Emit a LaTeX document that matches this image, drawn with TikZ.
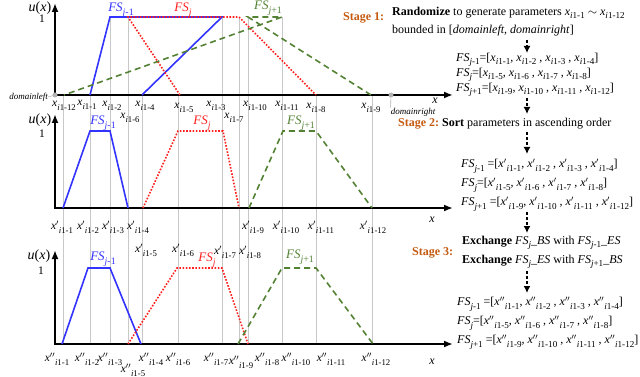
\documentclass[tikz,border=0pt]{standalone}
\usepackage{fontspec}
\setmainfont{Liberation Serif}
\usetikzlibrary{arrows.meta}
\definecolor{fsblue}{HTML}{3333FF}
\definecolor{fsred}{HTML}{FF2020}
\definecolor{fsgreen}{HTML}{548235}
\definecolor{stageorange}{HTML}{C55A11}
\definecolor{guidegray}{HTML}{C8C8C8}
% subscripts and parameter labels
\newcommand{\sbs}[1]{\raisebox{-0.3em}{\scalebox{0.76}{#1}}}
\newcommand{\px}[1]{\textit{x}\sbs{\textit{i}1-#1}}
\newcommand{\pxa}[1]{\textit{x}$^{\prime}$\sbs{\textit{i}1-#1}}
\newcommand{\pxb}[1]{\textit{x}$^{\prime\prime}$\sbs{\textit{i}1-#1}}
\newcommand{\fs}[1]{\textit{FS}\sbs{\textit{j}#1}}
% trapezoid: style, start, left top, right top, end, base y, top y
\newcommand{\trap}[7]{%
  \draw[#1] (#2,#6) -- (#3,#7) -- (#4,#7) -- (#5,#6);%
}

\begin{document}
\begin{tikzpicture}[x=1pt,y=-1pt,
  axis/.style={line width=2.2pt,{Latex[length=9pt,width=7pt]}-{Latex[length=9pt,width=7pt]}},
  guide/.style={guidegray,line width=0.5pt},
  fsa/.style={fsblue,line width=1.6pt},
  fsb/.style={fsred,line width=1.6pt,dash pattern=on 1.6pt off 1.6pt},
  fsc/.style={fsgreen,line width=1.6pt,dash pattern=on 6pt off 4pt},
  tick/.style={font=\fontsize{11.5}{12}\selectfont,inner sep=0pt},
  fslabel/.style={font=\fontsize{13}{14}\selectfont,inner sep=0pt},
  stage/.style={anchor=west,font=\fontsize{12}{14}\selectfont\bfseries,text=stageorange,inner sep=0pt},
  txt/.style={anchor=west,font=\fontsize{12}{14}\selectfont,inner sep=0pt},
  flow/.style={line width=2pt,dash pattern=on 3pt off 2pt,-{Latex[length=7pt,width=7pt]}}]
  \useasboundingbox (0,0) rectangle (640,377);

  % guide lines
  \foreach \gx in {63,90,110,128,142,178,222,239,248,282,316,372}
    \draw[guide] (\gx,95) -- (\gx,344);
  \foreach \gx in {110,128,222,239,248,282}
    \draw[guide] (\gx,17) -- (\gx,95);

  % axes
  \foreach \by/\ty in {95/3,208/114,344/250}
    \draw[axis] (55,\ty) -- (55,\by) -- (453,\by);
  \node[font=\fontsize{14}{14}\selectfont] (u1) at (40,8) {\textit{u}(\textit{x})};
  \node[font=\fontsize{14}{14}\selectfont] (u2) at (40,120) {\textit{u}(\textit{x})};
  \node[font=\fontsize{14}{14}\selectfont] (u3) at (39,256) {\textit{u}(\textit{x})};
  \node[tick] (one1) at (42,19) {1};
  \node[tick] (one2) at (42,134) {1};
  \node[tick] (one3) at (41,271) {1};
  \node[tick,font=\fontsize{12}{12}\selectfont\itshape] (xl1) at (435,101) {x};
  \node[tick,font=\fontsize{12}{12}\selectfont\itshape] (xl2) at (432,220) {x};
  \node[tick,font=\fontsize{12}{12}\selectfont\itshape] (xl3) at (432,362) {x};

  % domain bounds
  \fill[gray!60] (55,95) circle (2.5);
  \fill[gray!60] (391,95) circle (2.5);
  \node[tick,font=\fontsize{9}{10}\selectfont\itshape,anchor=east] (dl) at (48,97) {domainleft};
  \node[tick,font=\fontsize{9}{10}\selectfont\itshape] (dr) at (413,112) {domainright};
  \coordinate (dlp) at (55,95);
  \coordinate (drp) at (391,95);
  \draw[gray!60,line width=0.6pt] (dl.east) -- (dlp);
  \draw[gray!60,line width=0.6pt] (dr.north west) -- (drp);

  % stage 1
  \trap{fsa}{90}{110}{222}{142}{95}{17}
  \trap{fsb}{180}{128}{239}{316}{95}{17}
  \trap{fsc}{371}{248}{282}{64}{95}{17}
  \node[fslabel,text=fsblue] (fa1) at (121,10) {\fs{-1}};
  \node[fslabel,text=fsred] (fb1) at (183,10) {\fs{}};
  \node[fslabel,text=fsgreen] (fc1) at (268,8) {\fs{+1}};
  \foreach \k/\lx/\ly in {12/64/106,1/87/105,2/112/106,6/130/118,4/145/106,5/184/108,
      3/216/106,7/234/118,10/255/106,11/287/106,8/316/108,9/371/108}
    \node[tick] (pa\k) at (\lx,\ly) {\px{\k}};

  % stage 2
  \trap{fsa}{63}{90}{110}{128}{208}{131}
  \trap{fsb}{143}{178}{223}{239}{208}{131}
  \trap{fsc}{249}{283}{316}{372}{208}{131}
  \node[fslabel,text=fsblue] (fa2) at (103,123) {\fs{-1}};
  \node[fslabel,text=fsred] (fb2) at (202,123) {\fs{}};
  \node[fslabel,text=fsgreen] (fc2) at (301,123) {\fs{+1}};
  \foreach \k/\lx/\ly in {1/62/227,2/88/227,3/113/227,4/138/227,9/253/227,10/286/227,
      11/321/227,12/373/227,5/146/250,6/183/250,7/225/252,8/250/252}
    \node[tick] (pb\k) at (\lx,\ly) {\pxa{\k}};

  % stage 3
  \trap{fsa}{62}{88}{110}{141}{344}{268}
  \trap{fsb}{128}{177}{222}{248}{344}{268}
  \trap{fsc}{238}{282}{316}{373}{344}{268}
  \node[fslabel,text=fsblue] (fa3) at (103,259) {\fs{-1}};
  \node[fslabel,text=fsred] (fb3) at (207,260) {\fs{}};
  \node[fslabel,text=fsgreen] (fc3) at (300,257) {\fs{+1}};
  \foreach \k/\lx/\ly in {1/57/359,2/87/359,3/110/359,4/151/359,6/178/359,7/216/359,
      9/241/362,8/267/359,10/296/359,11/331/359,12/376/359,5/133/370}
    \node[tick] (pc\k) at (\lx,\ly) {\pxb{\k}};

  % right column
  \node[stage] (st1) at (343,18) {Stage 1:};
  \node[txt] (r1a) at (392,13) {\textbf{Randomize} to generate parameters \px{1} $\sim$ \px{12}};
  \node[txt] (r1b) at (392,31) {bounded in [\textit{domainleft}, \textit{domainright}]};
  \node[txt] (f1a) at (456,60) {\fs{-1}=[\px{1}, \px{2} , \px{3} , \px{4}]};
  \node[txt] (f1b) at (456,75) {\fs{}=[\px{5}, \px{6} , \px{7} , \px{8}]};
  \node[txt] (f1c) at (456,90) {\fs{+1}=[\px{9}, \px{10} , \px{11} , \px{12}]};
  \node[stage] (st2) at (398,124) {Stage 2:};
  \node[txt] (r2) at (442,124) {\textbf{Sort} parameters in ascending order};
  \node[txt] (f2a) at (461,166) {\fs{-1} =[\pxa{1}, \pxa{2} , \pxa{3} , \pxa{4}]};
  \node[txt] (f2b) at (461,185) {\fs{}=[\pxa{5}, \pxa{6} , \pxa{7} , \pxa{8}]};
  \node[txt] (f2c) at (461,204) {\fs{+1} =[\pxa{9}, \pxa{10} , \pxa{11} , \pxa{12}]};
  \node[stage] (st3) at (412,253) {Stage 3:};
  \node[txt] (r3a) at (462,243) {\textbf{Exchange} \fs{}\_\textit{BS} with \fs{-1}\_\textit{ES}};
  \node[txt] (r3b) at (462,262) {\textbf{Exchange} \fs{}\_\textit{ES} with \fs{+1}\_\textit{BS}};
  \node[txt] (f3a) at (457,304) {\fs{-1} =[\pxb{1}, \pxb{2} , \pxb{3} , \pxb{4}]};
  \node[txt] (f3b) at (457,323) {\fs{}=[\pxb{5}, \pxb{6} , \pxb{7} , \pxb{8}]};
  \node[txt] (f3c) at (457,342) {\fs{+1} =[\pxb{9}, \pxb{10} , \pxb{11} , \pxb{12}]};

  % flow arrows
  \foreach \n/\ya/\yb in {a/40/53,b/98/114,c/132/154,d/212/233,e/271/293}{
    \coordinate (fl\n s) at (527,\ya);
    \coordinate (fl\n e) at (527,\yb);
    \draw[flow] (fl\n s) -- (fl\n e);
  }
\end{tikzpicture}
\end{document}
